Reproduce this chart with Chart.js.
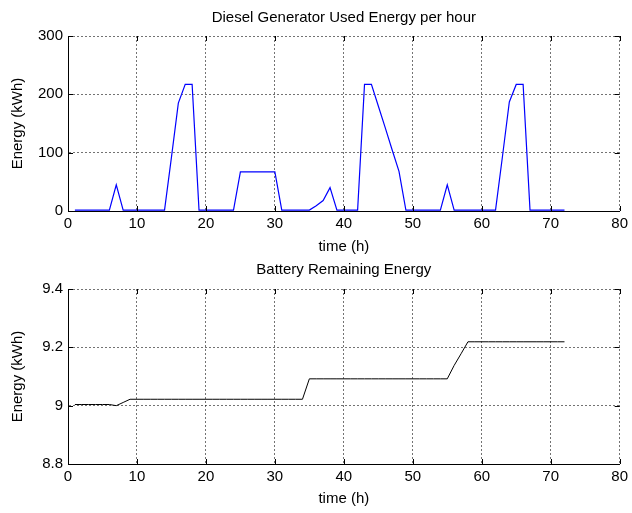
<!DOCTYPE html>
<html>
<head>
    <title>Generator and Battery Energy</title>
    <script src="https://cdn.jsdelivr.net/npm/chart.js"></script>
    <style>
        body { margin: 0; background: #fff; }
        #wrap { position: relative; width: 632px; height: 513px; overflow: hidden; }
        #topChart { position: absolute; left: 0; top: 0; }
        #bottomChart { position: absolute; left: 0; top: 250px; }
    </style>
</head>
<body>
<div id="wrap">
    <canvas id="topChart" width="632" height="262"></canvas>
    <canvas id="bottomChart" width="632" height="263"></canvas>
</div>
<script>
// hourly simulation results
const hours = [];
for (let h = 1; h <= 72; h++) hours.push(h);

const dieselEnergy = [
    1.5, 1.5, 1.5, 1.5, 1.5, 1.5, 45, 1.5, 1.5, 1.5, 1.5, 1.5, 1.5, 1.5,
    92, 185, 217, 217, 1.5, 1.5, 1.5, 1.5, 1.5, 1.5,
    67, 67, 67, 67, 67, 67, 1.5, 1.5, 1.5, 1.5, 1.5,
    9, 18, 40, 1.5, 1.5, 1.5, 1.5,
    217, 217, 180, 143, 105, 68, 1.5, 1.5, 1.5, 1.5, 1.5, 1.5,
    45, 1.5, 1.5, 1.5, 1.5, 1.5, 1.5, 1.5,
    93, 187, 217, 217, 1.5, 1.5, 1.5, 1.5, 1.5, 1.5
];

const batteryEnergy = [
    9.004, 9.004, 9.004, 9.004, 9.004, 9.004, 9.0, 9.011,
    9.022, 9.022, 9.022, 9.022, 9.022, 9.022, 9.022, 9.022, 9.022, 9.022,
    9.022, 9.022, 9.022, 9.022, 9.022, 9.022, 9.022, 9.022, 9.022, 9.022,
    9.022, 9.022, 9.022, 9.022, 9.022, 9.022,
    9.092, 9.092, 9.092, 9.092, 9.092, 9.092, 9.092, 9.092, 9.092, 9.092,
    9.092, 9.092, 9.092, 9.092, 9.092, 9.092, 9.092, 9.092, 9.092, 9.092, 9.092,
    9.138, 9.178,
    9.219, 9.219, 9.219, 9.219, 9.219, 9.219, 9.219, 9.219, 9.219, 9.219,
    9.219, 9.219, 9.219, 9.219, 9.219
];

const xTicks = [0, 10, 20, 30, 40, 50, 60, 70, 80];
const dieselTicks = [0, 100, 200, 300];
const batteryTicks = [8.8, 9.0, 9.2, 9.4];

const FONT = 'Liberation Sans, Arial, Helvetica, sans-serif';
Chart.defaults.font.family = FONT;
Chart.defaults.font.size = 15;
Chart.defaults.color = '#000';

// small inward tick marks on all four sides, like a boxed plot
const innerTicks = {
    id: 'innerTicks',
    afterDraw(chart) {
        const { ctx, chartArea: a, scales } = chart;
        const len = 5;
        ctx.save();
        ctx.strokeStyle = '#000';
        ctx.lineWidth = 1;
        ctx.beginPath();
        scales.x.ticks.forEach(t => {
            const px = Math.round(scales.x.getPixelForValue(t.value)) + 0.5;
            ctx.moveTo(px, a.bottom); ctx.lineTo(px, a.bottom - len);
            ctx.moveTo(px, a.top); ctx.lineTo(px, a.top + len);
        });
        scales.y.ticks.forEach(t => {
            const py = Math.round(scales.y.getPixelForValue(t.value)) + 0.5;
            ctx.moveTo(a.left, py); ctx.lineTo(a.left + len, py);
            ctx.moveTo(a.right, py); ctx.lineTo(a.right - len, py);
        });
        ctx.stroke();
        ctx.restore();
    }
};

function makeChart(id, opts) {
    const points = hours.map((h, i) => ({ x: h, y: opts.values[i] }));
    return new Chart(document.getElementById(id), {
        type: 'line',
        data: {
            datasets: [{
                data: points,
                borderColor: opts.color,
                borderWidth: opts.width,
                pointRadius: 0,
                tension: 0,
                fill: false
            }]
        },
        options: {
            responsive: false,
            animation: false,
            events: [],
            layout: { padding: { left: 0, right: 10, top: 0, bottom: 0 } },
            plugins: {
                legend: { display: false },
                tooltip: { enabled: false },
                title: {
                    display: true,
                    fullSize: false,   // center over the plot area, not the canvas
                    text: opts.title,
                    color: '#000',
                    font: { size: 15, weight: 'normal' },
                    padding: opts.titlePad
                }
            },
            scales: {
                x: {
                    type: 'linear',
                    min: 0,
                    max: 80,
                    afterBuildTicks: s => { s.ticks = xTicks.map(v => ({ value: v })); },
                    afterFit: s => { s.height = opts.xHeight; },
                    grid: { color: 'rgba(0,0,0,0.55)', lineWidth: 1, drawTicks: false },
                    border: { display: true, color: '#000', width: 1, dash: [2, 2] },
                    ticks: { padding: 4, maxRotation: 0, callback: v => String(v) },
                    title: {
                        display: true,
                        text: 'time (h)',
                        font: { size: 15 },
                        padding: { top: 0, bottom: opts.xTitlePad }
                    }
                },
                y: {
                    type: 'linear',
                    min: opts.yTicks[0],
                    max: opts.yTicks[opts.yTicks.length - 1],
                    afterBuildTicks: s => { s.ticks = opts.yTicks.map(v => ({ value: v })); },
                    afterFit: s => { s.width = 68; },
                    grid: { color: 'rgba(0,0,0,0.55)', lineWidth: 1, drawTicks: false },
                    border: { display: true, color: '#000', width: 1, dash: [2, 2] },
                    ticks: { padding: 5, callback: v => String(+v.toFixed(1)) },
                    title: {
                        display: true,
                        text: 'Energy (kWh)',
                        font: { size: 15 },
                        padding: { top: 9, bottom: 0 }
                    }
                }
            }
        },
        plugins: [innerTicks]
    });
}

makeChart('topChart', {
    title: 'Diesel Generator Used Energy per hour',
    values: dieselEnergy,
    yTicks: dieselTicks,
    color: '#0000ff',
    width: 1.2,
    titlePad: { top: 9, bottom: 9 },
    xHeight: 51,
    xTitlePad: 6
});

makeChart('bottomChart', {
    title: 'Battery Remaining Energy',
    values: batteryEnergy,
    yTicks: batteryTicks,
    color: '#000000',
    width: 1,
    titlePad: { top: 11, bottom: 10 },
    xHeight: 49,
    xTitlePad: 5
});
</script>
</body>
</html>
